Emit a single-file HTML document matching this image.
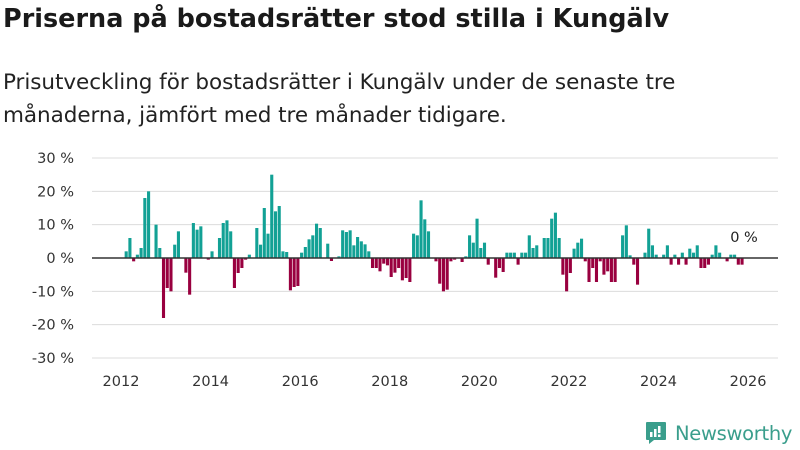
<!DOCTYPE html>
<html><head><meta charset="utf-8">
<style>
body{margin:0;width:800px;height:450px;background:#fff;font-family:"Liberation Sans","DejaVu Sans",sans-serif;overflow:hidden;position:relative}
#title{position:absolute;left:3px;top:4px;font-size:25.5px;font-weight:bold;color:#1a1a1a;margin:0;font-family:"DejaVu Sans","Liberation Sans",sans-serif;letter-spacing:0px;white-space:nowrap}
#sub{position:absolute;left:3px;top:66px;font-size:21.5px;line-height:33px;color:#222;font-family:"DejaVu Sans","Liberation Sans",sans-serif;letter-spacing:-0.05px;white-space:nowrap}
svg{position:absolute;left:0;top:0}
</style></head><body>
<h1 id="title">Priserna på bostadsrätter stod stilla i Kungälv</h1>
<div id="sub">Prisutveckling för bostadsrätter i Kungälv under de senaste tre<br>månaderna, jämfört med tre månader tidigare.</div>
<svg id="chart" width="800" height="450"></svg>
<script>
const startYear = 2012;
const values = [0,2,6,-1,1,3,18,20,0,10,3,-18,-9,-10,4,8,0,-4.4,-11,10.5,8.5,9.5,0,-0.5,2,0,6,10.5,11.3,8,-9,-4.5,-3,-0.5,1,0,9,4,15,7.3,25,14,15.6,2,1.8,-9.7,-8.7,-8.4,1.6,3.3,5.6,6.8,10.3,9,0,4.3,-0.9,0,0.5,8.3,7.8,8.3,3.8,6.3,5,4.1,2,-3,-3,-4,-1.7,-2.2,-5.7,-4.4,-3,-6.7,-6,-7.2,7.3,6.8,17.3,11.6,8,0,-1,-7.7,-10,-9.5,-1,-0.5,0,-1.2,0.5,6.8,4.6,11.8,3,4.6,-2,0,-5.9,-3,-4.2,1.6,1.6,1.6,-2,1.6,1.6,6.8,3,3.8,0,6,6,11.8,13.6,6,-5,-10,-4.5,2.8,4.6,5.8,-1,-7.2,-3,-7.2,-1,-5,-4,-7.2,-7.2,0,6.8,9.8,0.8,-2,-8,0,1.6,8.8,3.8,1,0,1,3.8,-2,1,-2,1.6,-2,2.8,1.6,3.8,-3,-3,-2,1,3.8,1.6,0,-1,1,1,-2,-2];
const yTicks = [30,20,10,0,-10,-20,-30];
const xTicks = [2012,2014,2016,2018,2020,2022,2024,2026];
const lastLabel = "0 %";
const NS="http://www.w3.org/2000/svg";
const svg=document.getElementById('chart');
const x=(yr)=>121+(yr-2012)*44.79;
const y=(v)=>258-v*3.333;
function mk(t,a){const e=document.createElementNS(NS,t);for(const k in a)e.setAttribute(k,a[k]);svg.appendChild(e);return e;}
yTicks.forEach(t=>{
  const g=mk('line',{x1:92,x2:778,y1:y(t),y2:y(t),stroke:'#dcdcdc','stroke-width':1});
  
  
  const l=mk('text',{x:74,y:y(t)+5,'text-anchor':'end','font-size':14.5,fill:'#333','font-family':'DejaVu Sans, Liberation Sans, sans-serif'});
  l.textContent=t+' %';
  
  
});
xTicks.forEach(t=>{
  const l=mk('text',{x:x(t),y:386,'text-anchor':'middle','font-size':14.5,fill:'#333','font-family':'DejaVu Sans, Liberation Sans, sans-serif'});
  l.textContent=t;
  
  
});
values.forEach((v,i)=>{
  if(v===0)return;
  const xc=x(startYear+i/12)+1.5;
  const r=mk('rect',{x:xc-1.6,width:3.1,y:Math.min(y(v),y(0)),height:Math.abs(y(v)-y(0)),fill:v>0?'#12a195':'#99003f'});
  
  
});
const z=mk('line',{x1:92,x2:778,y1:y(0),y2:y(0),stroke:'#333','stroke-width':1.5});


const ll=mk('text',{x:744,y:242,'text-anchor':'middle','font-size':14.5,fill:'#222','font-family':'DejaVu Sans, Liberation Sans, sans-serif'});
ll.textContent=lastLabel;


</script>
<div style="position:absolute;left:645px;top:420px;height:26px;display:flex;align-items:center">
<svg width="22" height="24" viewBox="0 0 22 24" style="position:static"><path d="M2 1h18a1 1 0 0 1 1 1v16a1 1 0 0 1-1 1H9l-5 4v-4H2a1 1 0 0 1-1-1V2a1 1 0 0 1 1-1z" fill="#3a9e8c"/><rect x="5" y="11" width="2.5" height="5" fill="#fff"/><rect x="9" y="8" width="2.5" height="8" fill="#fff"/><rect x="13" y="5" width="2.5" height="7" fill="#fff"/><rect x="13" y="13.5" width="2.5" height="2.5" fill="#fff"/></svg>
<span style="margin-left:8px;font-size:19.5px;color:#3a9e8c;font-family:'DejaVu Sans','Liberation Sans',sans-serif;letter-spacing:-0.3px">Newsworthy</span>
</div>
</body></html>
